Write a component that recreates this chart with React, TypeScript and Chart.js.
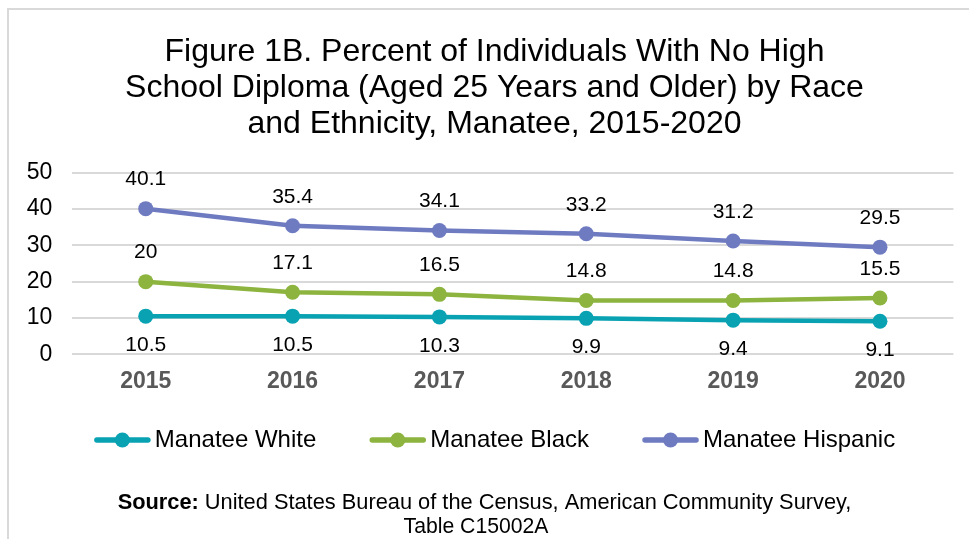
import React, { useEffect, useRef } from "react";
import { Chart, registerables } from "chart.js";

Chart.register(...registerables);

const FONT = '"Liberation Sans", Arial, Helvetica, sans-serif';

const years = ["2015", "2016", "2017", "2018", "2019", "2020"];
const whiteValues = [10.5, 10.5, 10.3, 9.9, 9.4, 9.1];
const blackValues = [20, 17.1, 16.5, 14.8, 14.8, 15.5];
const hispanicValues = [40.1, 35.4, 34.1, 33.2, 31.2, 29.5];
const seriesNames = ["Manatee White", "Manatee Black", "Manatee Hispanic"];
const seriesColors = ["#09A2B2", "#8CB43F", "#6F7BC1"];
const labelSides = ["below", "above", "above"];
const titleLines = [
  "Figure 1B. Percent of Individuals With No High",
  "School Diploma (Aged 25 Years and Older) by Race",
  "and Ethnicity, Manatee, 2015-2020",
];
const sourceBold = "Source:";
const sourceRest = " United States Bureau of the Census, American Community Survey,";
const sourceLine2 = "Table C15002A";
const yMin = 0;
const yMax = 50;
const yStep = 10;

function drawLegend(chart: any) {
  const ctx = chart.ctx;
  ctx.save();
  ctx.font = `24px ${FONT}`;
  ctx.textBaseline = "middle";
  ctx.textAlign = "left";
  const markerW = 57;
  const gapText = 4;
  const gapItem = 53;
  const widths = seriesNames.map((n) => ctx.measureText(n).width);
  const total =
    widths.reduce((a, b) => a + b, 0) + seriesNames.length * (markerW + gapText) + (seriesNames.length - 1) * gapItem;
  let x = 494.5 - total / 2;
  const y = 440;
  seriesNames.forEach((name, i) => {
    const color = seriesColors[i];
    ctx.strokeStyle = color;
    ctx.lineWidth = 5.5;
    ctx.lineCap = "round";
    ctx.beginPath();
    ctx.moveTo(x + 3, y);
    ctx.lineTo(x + markerW - 3, y);
    ctx.stroke();
    ctx.fillStyle = color;
    ctx.beginPath();
    ctx.arc(x + markerW / 2, y, 7.5, 0, Math.PI * 2);
    ctx.fill();
    ctx.fillStyle = "#000";
    ctx.fillText(name, x + markerW + gapText, y);
    x += markerW + gapText + widths[i] + gapItem;
  });
  ctx.restore();
}

const decorPlugin = {
  id: "decor",
  beforeDraw(chart: any) {
    const ctx = chart.ctx;
    ctx.save();
    ctx.fillStyle = "#d9d9d9";
    ctx.fillRect(7, 8, 2, chart.height - 8);
    ctx.fillRect(7, 8, chart.width - 7, 2);
    ctx.restore();
  },
  afterDatasetsDraw(chart: any) {
    const ctx = chart.ctx;
    ctx.save();
    ctx.font = `21px ${FONT}`;
    ctx.fillStyle = "#000";
    ctx.textAlign = "center";
    ctx.textBaseline = "middle";
    chart.data.datasets.forEach((ds: any, i: number) => {
      const meta = chart.getDatasetMeta(i);
      meta.data.forEach((pt: any, j: number) => {
        const v = ds.data[j];
        const y = labelSides[i] === "above" ? pt.y - 29 : pt.y + 29;
        ctx.fillText(String(v), pt.x, y);
      });
    });
    ctx.restore();
  },
  afterDraw(chart: any) {
    drawLegend(chart);
    const ctx = chart.ctx;
    ctx.save();
    ctx.fillStyle = "#000";
    ctx.textBaseline = "middle";
    ctx.textAlign = "left";
    const boldFont = `bold 21.8px ${FONT}`;
    const regFont = `21.8px ${FONT}`;
    ctx.font = boldFont;
    const wb = ctx.measureText(sourceBold).width;
    ctx.font = regFont;
    const wr = ctx.measureText(sourceRest).width;
    const start = 484.5 - (wb + wr) / 2;
    ctx.font = boldFont;
    ctx.fillText(sourceBold, start, 503);
    ctx.font = regFont;
    ctx.fillText(sourceRest, start + wb, 503);
    ctx.font = `21.2px ${FONT}`;
    ctx.textAlign = "center";
    ctx.fillText(sourceLine2, 476, 527);
    ctx.restore();
  },
};

export default function App() {
  const ref = useRef<HTMLCanvasElement>(null);

  useEffect(() => {
    if (!ref.current) return;
    const seriesValues = [whiteValues, blackValues, hispanicValues];
    const chart = new Chart(ref.current, {
      type: "line",
      data: {
        labels: years,
        datasets: seriesNames.map((name, i) => ({
          label: name,
          data: seriesValues[i],
          yAxisID: "y",
          borderColor: seriesColors[i],
          backgroundColor: seriesColors[i],
          pointBackgroundColor: seriesColors[i],
          pointBorderWidth: 0,
          pointRadius: 7.5,
          borderWidth: 4.5,
          tension: 0,
          fill: false,
        })),
      },
      options: {
        animation: false,
        responsive: false,
        devicePixelRatio: 1,
        layout: { padding: { left: 20, right: 0, top: 0, bottom: 124.7 } },
        plugins: {
          tooltip: { enabled: false },
          legend: { display: false },
          title: {
            display: true,
            text: titleLines,
            color: "#000",
            font: { family: FONT, size: 32, weight: "normal", lineHeight: 36 / 32 },
            padding: { top: 34, bottom: 30.7 },
          },
        },
        scales: {
          x: {
            offset: true,
            grid: { display: false, drawTicks: false },
            border: { display: false },
            ticks: {
              color: "#595959",
              font: { family: FONT, size: 23, weight: "bold" },
              padding: 14,
            },
            afterFit: (s: any) => {
              s.height = 60;
            },
          },
          y: {
            position: "left",
            min: yMin,
            max: yMax,
            ticks: {
              stepSize: yStep,
              color: "#000",
              font: { family: FONT, size: 23 },
              padding: 20,
            },
            grid: { color: "#d9d9d9", lineWidth: 2, drawTicks: false },
            border: { display: false },
            afterFit: (s: any) => {
              s.width = 52.3;
            },
          },
          spacer: {
            type: "linear",
            position: "right",
            display: true,
            ticks: { display: false },
            grid: { display: false, drawTicks: false },
            border: { display: false },
            afterFit: (s: any) => {
              s.width = 15.6;
            },
          },
        },
      },
      plugins: [decorPlugin],
    } as any);
    return () => chart.destroy();
  }, []);

  return (
    <div style={{ position: "fixed", left: 0, top: 0, width: 969, height: 539, background: "#fff" }}>
      <canvas ref={ref} width={969} height={539} style={{ display: "block", width: 969, height: 539 }} />
    </div>
  );
}
